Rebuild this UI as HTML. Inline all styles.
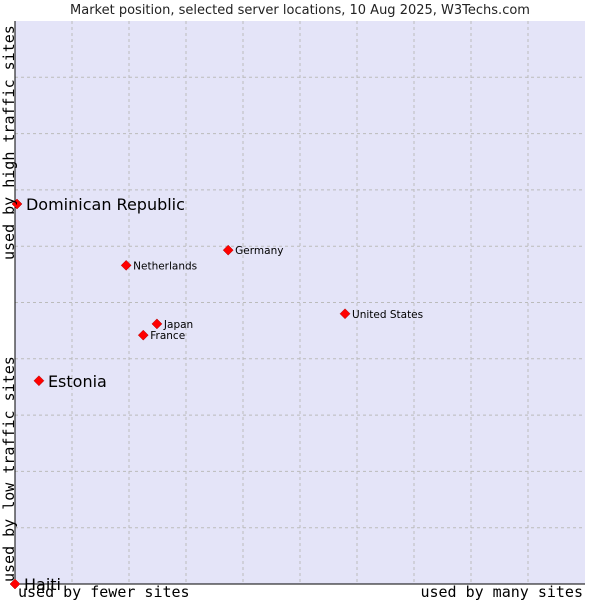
<!DOCTYPE html>
<html><head><meta charset="utf-8"><style>
body{margin:0;background:#fff;}
svg{display:block;font-family:"DejaVu Sans","Liberation Sans",sans-serif;}
</style></head><body>
<svg id="chart" width="600" height="600">
<text x="300" y="14" text-anchor="middle" font-size="13" fill="#222">Market position, selected server locations, 10 Aug 2025, W3Techs.com</text>
<rect x="15" y="21" width="570" height="563" fill="#e4e4f8"/>
<g id="grid"></g>
<line x1="15" y1="21" x2="15" y2="584" stroke="#000"/>
<line x1="15" y1="584" x2="585" y2="584" stroke="#000"/>
<g id="marks"></g>
<text x="18" y="597" font-family="DejaVu Sans Mono,Liberation Mono,monospace" font-size="15">used by fewer sites</text>
<text x="583" y="597" text-anchor="end" font-family="DejaVu Sans Mono,Liberation Mono,monospace" font-size="15">used by many sites</text>
<text transform="translate(14,582) rotate(-90)" font-family="DejaVu Sans Mono,Liberation Mono,monospace" font-size="15">used by low traffic sites</text>
<text transform="translate(14,260) rotate(-90)" font-family="DejaVu Sans Mono,Liberation Mono,monospace" font-size="15">used by high traffic sites</text>
</svg>
<script>
const names=["Dominican Republic","Estonia","Haiti","Netherlands","Germany","Japan","France","United States"];
const xVals=[0.35,4.2,0,19.5,37.4,24.9,22.5,57.9];
const yVals=[67.5,36.1,0,56.6,59.3,46.2,44.2,48.0];
const bigLabel=[true,true,true,false,false,false,false,false];
const NS="http://www.w3.org/2000/svg";
const X0=15,X1=585,Y0=584,Y1=21;
const sx=v=>X0+v/100*(X1-X0);
const sy=v=>Y0-v/100*(Y0-Y1);
const grid=document.getElementById('grid');
for(let i=1;i<10;i++){
  const v=document.createElementNS(NS,'line');
  v.setAttribute('x1',sx(i*10));v.setAttribute('x2',sx(i*10));v.setAttribute('y1',Y1);v.setAttribute('y2',Y0);
  v.setAttribute('stroke','#bbb');v.setAttribute('stroke-dasharray','3,3');
  
  
  grid.appendChild(v);
  const h=document.createElementNS(NS,'line');
  h.setAttribute('y1',sy(i*10));h.setAttribute('y2',sy(i*10));h.setAttribute('x1',X0);h.setAttribute('x2',X1);
  h.setAttribute('stroke','#bbb');h.setAttribute('stroke-dasharray','3,3');
  
  
  grid.appendChild(h);
}
const marks=document.getElementById('marks');
names.forEach((n,i)=>{
  const x=sx(xVals[i]),y=sy(yVals[i]);
  const p=document.createElementNS(NS,'path');
  p.setAttribute('d',`M${x-5},${y}L${x},${y-5}L${x+5},${y}L${x},${y+5}Z`);
  p.setAttribute('fill','#f00');
  p.setAttribute('stroke','#a00');
  p.setAttribute('stroke-width','0.5');
  
  
  marks.appendChild(p);
  const t=document.createElementNS(NS,'text');
  t.setAttribute('x',x+(bigLabel[i]?9:7));
  t.setAttribute('y',y+(bigLabel[i]?6:4));
  t.setAttribute('font-size',bigLabel[i]?'16':'10.5');
  t.setAttribute('fill','#000');
  t.textContent=n;
  
  
  marks.appendChild(t);
});
</script>
</body></html>
